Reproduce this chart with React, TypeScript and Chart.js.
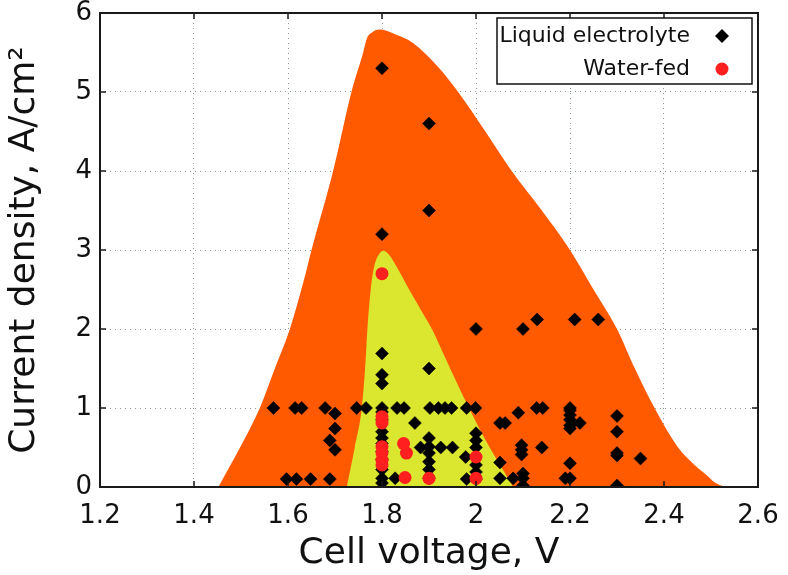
import { useEffect, useRef } from 'react';
import { Chart, registerables } from 'chart.js';

Chart.register(...registerables);

// Axis ticks
const xTicks = [1.2, 1.4, 1.6, 1.8, 2.0, 2.2, 2.4, 2.6];
const yTicks = [0, 1, 2, 3, 4, 5, 6];

// Series labels
const seriesNames = ['Liquid electrolyte', 'Water-fed'];

// Liquid electrolyte points [cell voltage V, current density A/cm2]
const liquidPoints: [number, number][] = [
  [1.8, 5.3], [1.9, 4.6], [1.9, 3.5], [1.8, 3.2], [2.0, 2.0], [2.1, 2.0], [2.13, 2.12], [2.21, 2.12], [2.26, 2.12],
  [1.8, 1.69], [1.8, 1.42], [1.8, 1.31], [1.9, 1.5],
  [1.569, 1], [1.615, 1], [1.629, 1], [1.679, 1], [1.746, 1], [1.766, 1], [1.8, 1], [1.832, 1], [1.847, 1],
  [1.902, 1], [1.92, 1], [1.934, 1], [1.948, 1], [1.98, 1], [1.999, 1], [2.129, 1], [2.142, 1], [2.2, 1],
  [1.7, 0.93], [1.7, 0.74], [1.689, 0.59], [1.7, 0.47],
  [1.597, 0.1], [1.618, 0.1], [1.648, 0.1], [1.689, 0.1],
  [1.8, 0.95], [1.8, 0.85], [1.8, 0.7], [1.8, 0.62], [1.8, 0.55], [1.8, 0.45], [1.8, 0.35], [1.8, 0.22], [1.8, 0.11], [1.8, 0.05],
  [1.87, 0.81], [1.882, 0.5], [1.828, 0.11],
  [1.9, 0.62], [1.9, 0.51], [1.9, 0.43], [1.9, 0.32], [1.9, 0.22], [1.9, 0.11],
  [1.925, 0.5], [1.95, 0.5],
  [2.0, 0.68], [2.0, 0.59], [2.0, 0.5], [2.0, 0.28], [2.0, 0.19], [2.0, 0.1],
  [1.978, 0.38], [1.98, 0.1],
  [2.09, 0.94], [2.051, 0.81], [2.062, 0.81],
  [2.097, 0.53], [2.097, 0.47], [2.097, 0.41], [2.14, 0.5], [2.051, 0.31], [2.051, 0.11], [2.079, 0.11],
  [2.1, 0.17], [2.1, 0.11], [2.1, 0.02], [2.19, 0.11], [2.2, 0.11],
  [2.2, 0.97], [2.2, 0.91], [2.2, 0.85], [2.2, 0.78], [2.2, 0.74], [2.221, 0.81], [2.2, 0.3],
  [2.3, 0.9], [2.3, 0.7], [2.3, 0.43], [2.3, 0.4], [2.3, 0.02], [2.35, 0.36],
];

// Water-fed points
const waterPoints: [number, number][] = [
  [1.8, 2.7], [1.8, 0.89], [1.8, 0.81], [1.8, 0.51], [1.8, 0.43], [1.8, 0.34], [1.8, 0.28],
  [1.846, 0.55], [1.852, 0.43], [1.849, 0.12], [1.9, 0.11], [2.0, 0.38], [2.0, 0.11],
];

// Outer (orange) envelope upper edge
const orangeEdge: [number, number][] = [
  [1.452, 0], [1.475, 0.25], [1.498, 0.5], [1.54, 1.0], [1.572, 1.5], [1.604, 2.0], [1.633, 2.6], [1.65, 3.0],
  [1.696, 4.0], [1.735, 5.0], [1.76, 5.5], [1.768, 5.68], [1.78, 5.76], [1.795, 5.79], [1.824, 5.74],
  [1.866, 5.62], [1.919, 5.32], [1.962, 5.0], [2.02, 4.5], [2.076, 4.0], [2.14, 3.5], [2.2, 3.0], [2.25, 2.5],
  [2.3, 2.0], [2.338, 1.5], [2.38, 1.0], [2.43, 0.5], [2.465, 0.28], [2.491, 0.15], [2.51, 0.05], [2.53, 0],
];

// Inner (yellow) envelope upper edge
const yellowEdge: [number, number][] = [
  [1.725, 0], [1.742, 0.5], [1.757, 1.0], [1.764, 1.5], [1.769, 2.0], [1.776, 2.5], [1.783, 2.78],
  [1.793, 2.94], [1.803, 2.99], [1.815, 2.94], [1.83, 2.8], [1.855, 2.53], [1.88, 2.27], [1.907, 1.99],
  [1.935, 1.63], [1.96, 1.31], [1.985, 1.0], [2.03, 0.49], [2.055, 0.24], [2.079, 0],
];

const FONT = 'DejaVu Sans';

const framePlugin = {
  id: 'frame',
  afterDatasetsDraw(chart: any) {
    const { ctx, chartArea: a, scales } = chart;
    ctx.save();
    ctx.strokeStyle = '#1a1a1a';
    ctx.lineWidth = 1.5;
    ctx.beginPath();
    for (const v of xTicks) {
      const px = scales.x.getPixelForValue(v);
      ctx.moveTo(px, a.bottom); ctx.lineTo(px, a.bottom - 6);
      ctx.moveTo(px, a.top); ctx.lineTo(px, a.top + 6);
    }
    for (const v of yTicks) {
      const py = scales.y.getPixelForValue(v);
      ctx.moveTo(a.left, py); ctx.lineTo(a.left + 6, py);
      ctx.moveTo(a.right, py); ctx.lineTo(a.right - 6, py);
    }
    ctx.stroke();
    ctx.lineWidth = 2;
    ctx.strokeRect(a.left, a.top, a.right - a.left, a.bottom - a.top);

    // legend
    const bx = a.right - 261;
    const by = a.top + 5;
    const bw = 255;
    const bh = 66;
    ctx.fillStyle = '#ffffff';
    ctx.fillRect(bx, by, bw, bh);
    ctx.lineWidth = 1.5;
    ctx.strokeStyle = '#111';
    ctx.strokeRect(bx, by, bw, bh);
    ctx.font = `22px "${FONT}"`;
    ctx.fillStyle = '#111';
    ctx.textAlign = 'right';
    ctx.textBaseline = 'middle';
    ctx.fillText(seriesNames[0], bx + 193, by + 18);
    ctx.fillText(seriesNames[1], bx + 193, by + 51);
    const mx = bx + 225;
    ctx.fillStyle = '#000';
    ctx.beginPath();
    ctx.moveTo(mx, by + 18 - 7);
    ctx.lineTo(mx + 7, by + 18);
    ctx.lineTo(mx, by + 18 + 7);
    ctx.lineTo(mx - 7, by + 18);
    ctx.closePath();
    ctx.fill();
    ctx.fillStyle = '#ff1f1f';
    ctx.beginPath();
    ctx.arc(mx, by + 51, 6.5, 0, Math.PI * 2);
    ctx.fill();
    ctx.restore();
  },
};

export default function App() {
  const ref = useRef<HTMLCanvasElement | null>(null);

  useEffect(() => {
    if (!ref.current) return;
    const toXY = (arr: [number, number][]) => arr.map(([x, y]) => ({ x, y }));
    const chart = new Chart(ref.current, {
      type: 'scatter',
      data: {
        datasets: [
          {
            label: 'outer',
            type: 'line',
            data: toXY(orangeEdge),
            backgroundColor: '#ff5a00',
            borderColor: '#ff5a00',
            borderWidth: 0,
            pointRadius: 0,
            fill: 'origin',
            cubicInterpolationMode: 'monotone',
            order: 4,
          } as any,
          {
            label: 'inner',
            type: 'line',
            data: toXY(yellowEdge),
            backgroundColor: '#dbe62f',
            borderColor: '#dbe62f',
            borderWidth: 0,
            pointRadius: 0,
            fill: 'origin',
            cubicInterpolationMode: 'monotone',
            order: 3,
          } as any,
          {
            label: seriesNames[0],
            data: toXY(liquidPoints),
            pointStyle: 'rectRot',
            pointRadius: 6.5,
            backgroundColor: '#000',
            borderColor: '#000',
            borderWidth: 0.5,
            order: 2,
          },
          {
            label: seriesNames[1],
            data: toXY(waterPoints),
            pointStyle: 'circle',
            pointRadius: 6.5,
            backgroundColor: '#ff1f1f',
            borderColor: '#ff1f1f',
            borderWidth: 0,
            order: 1,
          },
        ],
      },
      options: {
        responsive: false,
        animation: false,
        devicePixelRatio: 1,
        layout: { padding: { top: 13, right: 30, left: 0, bottom: 0 } },
        plugins: { legend: { display: false }, tooltip: { enabled: false } },
        scales: {
          x: {
            type: 'linear',
            min: 1.2,
            max: 2.6,
            afterBuildTicks: (s: any) => { s.ticks = xTicks.map((v) => ({ value: v })); },
            afterFit: (s: any) => { s.height = 88; s.paddingLeft = 0; s.paddingRight = 0; },
            ticks: {
              font: { family: FONT, size: 26 },
              color: '#111',
              padding: 14,
              maxRotation: 0,
              callback: (v: any) => String(Number(Number(v).toFixed(2))),
            },
            grid: { color: '#8b9999', lineWidth: 1, drawTicks: false },
            border: { display: false, dash: [1, 4] },
            title: {
              display: true,
              text: 'Cell voltage, V',
              font: { family: FONT, size: 36 },
              color: '#111',
              padding: { top: 0, bottom: 0 },
            },
          },
          y: {
            type: 'linear',
            min: 0,
            max: 6,
            afterBuildTicks: (s: any) => { s.ticks = yTicks.map((v) => ({ value: v })); },
            afterFit: (s: any) => { s.width = 100; s.paddingTop = 0; s.paddingBottom = 0; },
            ticks: {
              font: { family: FONT, size: 26 },
              color: '#111',
              padding: 8,
              callback: (v: any) => String(v),
            },
            grid: { color: '#8b9999', lineWidth: 1, drawTicks: false },
            border: { display: false, dash: [1, 4] },
            title: {
              display: true,
              text: 'Current density, A/cm²',
              font: { family: FONT, size: 36 },
              color: '#111',
              padding: { top: 3, bottom: 0 },
            },
          },
        },
      },
      plugins: [framePlugin],
    });
    return () => chart.destroy();
  }, []);

  return (
    <div style={{ position: 'fixed', left: 0, top: 0, width: 788, height: 575, background: '#fff' }}>
      <canvas ref={ref} width={788} height={575} />
    </div>
  );
}
